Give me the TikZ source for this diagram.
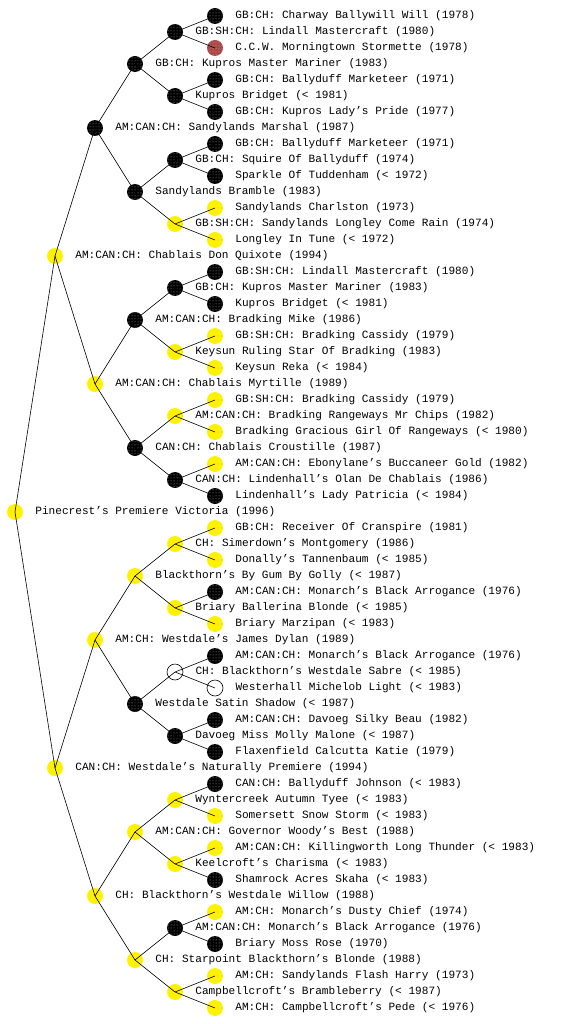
\documentclass[tikz,border=0pt]{standalone}
\usepackage{fontspec}
\setmonofont{Liberation Mono}
\usetikzlibrary{positioning,patterns}
\definecolor{dogred}{HTML}{A84848}
\tikzset{
  x=1pt, y=-1pt,
  dog/.style={circle, minimum size=16pt, inner sep=0pt},
  yellowdog/.style={dog, fill=yellow},
  blackdog/.style={dog, preaction={fill=black}, pattern=dots, pattern color=black!35},
  reddog/.style={dog, preaction={fill=dogred}, pattern=dots, pattern color=dogred!45},
  whitedog/.style={dog, fill=white, draw=black, line width=0.6pt},
  doglabel/.style={font=\fontsize{11.1}{12}\ttfamily, inner sep=0pt, anchor=west},
  link/.style={draw=black, line width=0.6pt},
}
\begin{document}
\begin{tikzpicture}
\useasboundingbox (0,0) rectangle (560,1024);
\node[blackdog] (n1) at (215,16) {};
\node[doglabel, right=12pt of n1] (t1) {GB:CH: Charway Ballywill Will (1978)};
\node[blackdog] (n2) at (175,32) {};
\node[doglabel, right=12pt of n2] (t2) {GB:SH:CH: Lindall Mastercraft (1980)};
\node[reddog] (n3) at (215,48) {};
\node[doglabel, right=12pt of n3] (t3) {C.C.W. Morningtown Stormette (1978)};
\node[blackdog] (n4) at (135,64) {};
\node[doglabel, right=12pt of n4] (t4) {GB:CH: Kupros Master Mariner (1983)};
\node[blackdog] (n5) at (215,80) {};
\node[doglabel, right=12pt of n5] (t5) {GB:CH: Ballyduff Marketeer (1971)};
\node[blackdog] (n6) at (175,96) {};
\node[doglabel, right=12pt of n6] (t6) {Kupros Bridget (< 1981)};
\node[blackdog] (n7) at (215,112) {};
\node[doglabel, right=12pt of n7] (t7) {GB:CH: Kupros Lady’s Pride (1977)};
\node[blackdog] (n8) at (95,128) {};
\node[doglabel, right=12pt of n8] (t8) {AM:CAN:CH: Sandylands Marshal (1987)};
\node[blackdog] (n9) at (215,144) {};
\node[doglabel, right=12pt of n9] (t9) {GB:CH: Ballyduff Marketeer (1971)};
\node[blackdog] (n10) at (175,160) {};
\node[doglabel, right=12pt of n10] (t10) {GB:CH: Squire Of Ballyduff (1974)};
\node[blackdog] (n11) at (215,176) {};
\node[doglabel, right=12pt of n11] (t11) {Sparkle Of Tuddenham (< 1972)};
\node[blackdog] (n12) at (135,192) {};
\node[doglabel, right=12pt of n12] (t12) {Sandylands Bramble (1983)};
\node[yellowdog] (n13) at (215,208) {};
\node[doglabel, right=12pt of n13] (t13) {Sandylands Charlston (1973)};
\node[yellowdog] (n14) at (175,224) {};
\node[doglabel, right=12pt of n14] (t14) {GB:SH:CH: Sandylands Longley Come Rain (1974)};
\node[yellowdog] (n15) at (215,240) {};
\node[doglabel, right=12pt of n15] (t15) {Longley In Tune (< 1972)};
\node[yellowdog] (n16) at (55,256) {};
\node[doglabel, right=12pt of n16] (t16) {AM:CAN:CH: Chablais Don Quixote (1994)};
\node[blackdog] (n17) at (215,272) {};
\node[doglabel, right=12pt of n17] (t17) {GB:SH:CH: Lindall Mastercraft (1980)};
\node[blackdog] (n18) at (175,288) {};
\node[doglabel, right=12pt of n18] (t18) {GB:CH: Kupros Master Mariner (1983)};
\node[blackdog] (n19) at (215,304) {};
\node[doglabel, right=12pt of n19] (t19) {Kupros Bridget (< 1981)};
\node[blackdog] (n20) at (135,320) {};
\node[doglabel, right=12pt of n20] (t20) {AM:CAN:CH: Bradking Mike (1986)};
\node[yellowdog] (n21) at (215,336) {};
\node[doglabel, right=12pt of n21] (t21) {GB:SH:CH: Bradking Cassidy (1979)};
\node[yellowdog] (n22) at (175,352) {};
\node[doglabel, right=12pt of n22] (t22) {Keysun Ruling Star Of Bradking (1983)};
\node[yellowdog] (n23) at (215,368) {};
\node[doglabel, right=12pt of n23] (t23) {Keysun Reka (< 1984)};
\node[yellowdog] (n24) at (95,384) {};
\node[doglabel, right=12pt of n24] (t24) {AM:CAN:CH: Chablais Myrtille (1989)};
\node[yellowdog] (n25) at (215,400) {};
\node[doglabel, right=12pt of n25] (t25) {GB:SH:CH: Bradking Cassidy (1979)};
\node[yellowdog] (n26) at (175,416) {};
\node[doglabel, right=12pt of n26] (t26) {AM:CAN:CH: Bradking Rangeways Mr Chips (1982)};
\node[yellowdog] (n27) at (215,432) {};
\node[doglabel, right=12pt of n27] (t27) {Bradking Gracious Girl Of Rangeways (< 1980)};
\node[blackdog] (n28) at (135,448) {};
\node[doglabel, right=12pt of n28] (t28) {CAN:CH: Chablais Croustille (1987)};
\node[yellowdog] (n29) at (215,464) {};
\node[doglabel, right=12pt of n29] (t29) {AM:CAN:CH: Ebonylane’s Buccaneer Gold (1982)};
\node[blackdog] (n30) at (175,480) {};
\node[doglabel, right=12pt of n30] (t30) {CAN:CH: Lindenhall’s Olan De Chablais (1986)};
\node[blackdog] (n31) at (215,496) {};
\node[doglabel, right=12pt of n31] (t31) {Lindenhall’s Lady Patricia (< 1984)};
\node[yellowdog] (n32) at (15,512) {};
\node[doglabel, right=12pt of n32] (t32) {Pinecrest’s Premiere Victoria (1996)};
\node[yellowdog] (n33) at (215,528) {};
\node[doglabel, right=12pt of n33] (t33) {GB:CH: Receiver Of Cranspire (1981)};
\node[yellowdog] (n34) at (175,544) {};
\node[doglabel, right=12pt of n34] (t34) {CH: Simerdown’s Montgomery (1986)};
\node[yellowdog] (n35) at (215,560) {};
\node[doglabel, right=12pt of n35] (t35) {Donally’s Tannenbaum (< 1985)};
\node[yellowdog] (n36) at (135,576) {};
\node[doglabel, right=12pt of n36] (t36) {Blackthorn’s By Gum By Golly (< 1987)};
\node[blackdog] (n37) at (215,592) {};
\node[doglabel, right=12pt of n37] (t37) {AM:CAN:CH: Monarch’s Black Arrogance (1976)};
\node[yellowdog] (n38) at (175,608) {};
\node[doglabel, right=12pt of n38] (t38) {Briary Ballerina Blonde (< 1985)};
\node[yellowdog] (n39) at (215,624) {};
\node[doglabel, right=12pt of n39] (t39) {Briary Marzipan (< 1983)};
\node[yellowdog] (n40) at (95,640) {};
\node[doglabel, right=12pt of n40] (t40) {AM:CH: Westdale’s James Dylan (1989)};
\node[blackdog] (n41) at (215,656) {};
\node[doglabel, right=12pt of n41] (t41) {AM:CAN:CH: Monarch’s Black Arrogance (1976)};
\node[whitedog] (n42) at (175,672) {};
\node[doglabel, right=12pt of n42] (t42) {CH: Blackthorn’s Westdale Sabre (< 1985)};
\node[whitedog] (n43) at (215,688) {};
\node[doglabel, right=12pt of n43] (t43) {Westerhall Michelob Light (< 1983)};
\node[blackdog] (n44) at (135,704) {};
\node[doglabel, right=12pt of n44] (t44) {Westdale Satin Shadow (< 1987)};
\node[blackdog] (n45) at (215,720) {};
\node[doglabel, right=12pt of n45] (t45) {AM:CAN:CH: Davoeg Silky Beau (1982)};
\node[blackdog] (n46) at (175,736) {};
\node[doglabel, right=12pt of n46] (t46) {Davoeg Miss Molly Malone (< 1987)};
\node[blackdog] (n47) at (215,752) {};
\node[doglabel, right=12pt of n47] (t47) {Flaxenfield Calcutta Katie (1979)};
\node[yellowdog] (n48) at (55,768) {};
\node[doglabel, right=12pt of n48] (t48) {CAN:CH: Westdale’s Naturally Premiere (1994)};
\node[blackdog] (n49) at (215,784) {};
\node[doglabel, right=12pt of n49] (t49) {CAN:CH: Ballyduff Johnson (< 1983)};
\node[yellowdog] (n50) at (175,800) {};
\node[doglabel, right=12pt of n50] (t50) {Wyntercreek Autumn Tyee (< 1983)};
\node[yellowdog] (n51) at (215,816) {};
\node[doglabel, right=12pt of n51] (t51) {Somersett Snow Storm (< 1983)};
\node[yellowdog] (n52) at (135,832) {};
\node[doglabel, right=12pt of n52] (t52) {AM:CAN:CH: Governor Woody’s Best (1988)};
\node[yellowdog] (n53) at (215,848) {};
\node[doglabel, right=12pt of n53] (t53) {AM:CAN:CH: Killingworth Long Thunder (< 1983)};
\node[yellowdog] (n54) at (175,864) {};
\node[doglabel, right=12pt of n54] (t54) {Keelcroft’s Charisma (< 1983)};
\node[blackdog] (n55) at (215,880) {};
\node[doglabel, right=12pt of n55] (t55) {Shamrock Acres Skaha (< 1983)};
\node[yellowdog] (n56) at (95,896) {};
\node[doglabel, right=12pt of n56] (t56) {CH: Blackthorn’s Westdale Willow (1988)};
\node[yellowdog] (n57) at (215,912) {};
\node[doglabel, right=12pt of n57] (t57) {AM:CH: Monarch’s Dusty Chief (1974)};
\node[blackdog] (n58) at (175,928) {};
\node[doglabel, right=12pt of n58] (t58) {AM:CAN:CH: Monarch’s Black Arrogance (1976)};
\node[blackdog] (n59) at (215,944) {};
\node[doglabel, right=12pt of n59] (t59) {Briary Moss Rose (1970)};
\node[yellowdog] (n60) at (135,960) {};
\node[doglabel, right=12pt of n60] (t60) {CH: Starpoint Blackthorn’s Blonde (1988)};
\node[yellowdog] (n61) at (215,976) {};
\node[doglabel, right=12pt of n61] (t61) {AM:CH: Sandylands Flash Harry (1973)};
\node[yellowdog] (n62) at (175,992) {};
\node[doglabel, right=12pt of n62] (t62) {Campbellcroft’s Brambleberry (< 1987)};
\node[yellowdog] (n63) at (215,1008) {};
\node[doglabel, right=12pt of n63] (t63) {AM:CH: Campbellcroft’s Pede (< 1976)};
% sire and dam links
\draw[link] (n32.center) -- (n16.center) (n32.center) -- (n48.center);
\draw[link] (n16.center) -- (n8.center) (n16.center) -- (n24.center);
\draw[link] (n48.center) -- (n40.center) (n48.center) -- (n56.center);
\draw[link] (n8.center) -- (n4.center) (n8.center) -- (n12.center);
\draw[link] (n24.center) -- (n20.center) (n24.center) -- (n28.center);
\draw[link] (n40.center) -- (n36.center) (n40.center) -- (n44.center);
\draw[link] (n56.center) -- (n52.center) (n56.center) -- (n60.center);
\draw[link] (n4.center) -- (n2.center) (n4.center) -- (n6.center);
\draw[link] (n12.center) -- (n10.center) (n12.center) -- (n14.center);
\draw[link] (n20.center) -- (n18.center) (n20.center) -- (n22.center);
\draw[link] (n28.center) -- (n26.center) (n28.center) -- (n30.center);
\draw[link] (n36.center) -- (n34.center) (n36.center) -- (n38.center);
\draw[link] (n44.center) -- (n42.center) (n44.center) -- (n46.center);
\draw[link] (n52.center) -- (n50.center) (n52.center) -- (n54.center);
\draw[link] (n60.center) -- (n58.center) (n60.center) -- (n62.center);
\draw[link] (n2.center) -- (n1.center) (n2.center) -- (n3.center);
\draw[link] (n6.center) -- (n5.center) (n6.center) -- (n7.center);
\draw[link] (n10.center) -- (n9.center) (n10.center) -- (n11.center);
\draw[link] (n14.center) -- (n13.center) (n14.center) -- (n15.center);
\draw[link] (n18.center) -- (n17.center) (n18.center) -- (n19.center);
\draw[link] (n22.center) -- (n21.center) (n22.center) -- (n23.center);
\draw[link] (n26.center) -- (n25.center) (n26.center) -- (n27.center);
\draw[link] (n30.center) -- (n29.center) (n30.center) -- (n31.center);
\draw[link] (n34.center) -- (n33.center) (n34.center) -- (n35.center);
\draw[link] (n38.center) -- (n37.center) (n38.center) -- (n39.center);
\draw[link] (n42.center) -- (n41.center) (n42.center) -- (n43.center);
\draw[link] (n46.center) -- (n45.center) (n46.center) -- (n47.center);
\draw[link] (n50.center) -- (n49.center) (n50.center) -- (n51.center);
\draw[link] (n54.center) -- (n53.center) (n54.center) -- (n55.center);
\draw[link] (n58.center) -- (n57.center) (n58.center) -- (n59.center);
\draw[link] (n62.center) -- (n61.center) (n62.center) -- (n63.center);
\end{tikzpicture}
\end{document}
